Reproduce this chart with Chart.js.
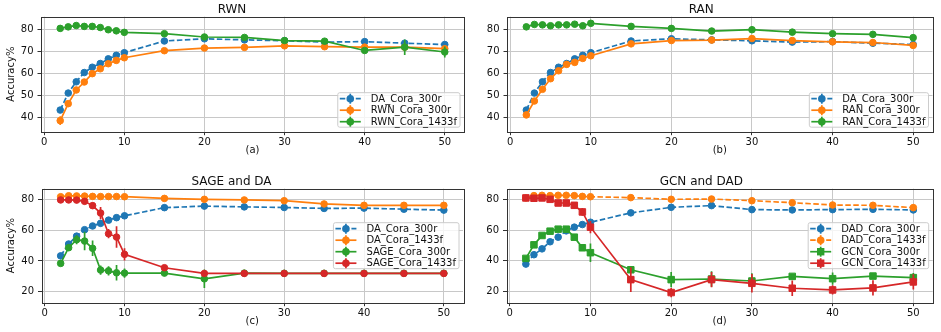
<!DOCTYPE html>
<html>
<head>
<meta charset="utf-8">
<script src="https://cdn.jsdelivr.net/npm/chart.js@4.4.1/dist/chart.umd.min.js"></script>
<style>
  body { margin: 0; background: #fff; width: 941px; height: 332px; overflow: hidden; position: relative; }
  canvas { position: absolute; }
</style>
</head>
<body>
<canvas id="chA" width="470" height="166" style="left:0;top:0"></canvas>
<canvas id="chB" width="471" height="166" style="left:470px;top:0"></canvas>
<canvas id="chC" width="470" height="166" style="left:0;top:166px"></canvas>
<canvas id="chD" width="471" height="166" style="left:470px;top:166px"></canvas>
<script>
// x values (number of steps) and ticks
var steps = [2, 3, 4, 5, 6, 7, 8, 9, 10, 15, 20, 25, 30, 35, 40, 45, 50];
var xTicks = [0, 10, 20, 30, 40, 50];
var yTicksTop = [40, 50, 60, 70, 80];
var yTicksBottom = [20, 40, 60, 80];
var titles = ['RWN', 'RAN', 'SAGE and DA', 'GCN and DAD'];
var subLabels = ['(a)', '(b)', '(c)', '(d)'];
var yLabel = 'Accuracy%';

// series values (accuracy %) and error bar half-lengths
var daCora300r     = [43.3, 51.0, 56.1, 60.3, 62.7, 64.4, 66.5, 68.1, 69.3, 74.6, 75.6, 75.1, 74.7, 74.1, 74.3, 73.6, 73.0];
var daCora300rErr  = [0.5, 0.4, 0.4, 0.3, 0.3, 0.3, 0.3, 0.3, 0.3, 0.3, 0.3, 0.3, 0.3, 0.3, 0.4, 1.5, 0.5];

var rwnCora300r    = [38.5, 46.2, 52.4, 56.0, 59.8, 62.0, 64.3, 65.8, 67.0, 70.2, 71.4, 71.7, 72.4, 72.0, 71.8, 71.8, 71.1];
var rwnCora300rErr = [2.0, 1.0, 0.8, 0.5, 0.5, 0.5, 0.5, 0.5, 0.5, 0.5, 0.5, 1.0, 0.8, 0.5, 0.5, 0.5, 0.6];
var rwnCora1433f   = [80.3, 81.0, 81.6, 81.2, 81.2, 80.7, 79.7, 79.2, 78.5, 77.9, 76.4, 76.2, 74.8, 74.5, 70.3, 71.8, 69.6];
var rwnCora1433fErr= [0.4, 0.4, 0.4, 0.4, 0.4, 0.4, 0.4, 0.4, 0.4, 0.4, 0.6, 0.6, 0.6, 0.6, 1.0, 3.5, 2.5];

var ranCora300r    = [41.1, 47.4, 52.7, 57.5, 61.1, 64.0, 64.9, 66.7, 67.9, 73.3, 74.8, 75.0, 75.7, 74.8, 74.2, 73.9, 72.6];
var ranCora300rErr = [0.8, 0.6, 0.5, 0.5, 0.5, 0.5, 0.5, 0.5, 0.5, 0.4, 0.4, 0.4, 0.4, 0.4, 0.4, 0.4, 0.4];
var ranCora1433f   = [81.0, 82.1, 81.9, 81.5, 81.9, 81.9, 82.2, 81.5, 82.6, 81.2, 80.3, 79.1, 79.7, 78.6, 77.9, 77.6, 76.1];
var ranCora1433fErr= [0.4, 0.4, 0.4, 0.4, 0.4, 0.4, 0.4, 0.4, 0.4, 0.4, 0.4, 0.4, 0.4, 0.4, 0.4, 0.4, 0.4];

var daCora1433f    = [81.7, 82.3, 82.2, 82.1, 81.9, 81.8, 81.8, 81.8, 81.7, 80.6, 80.0, 79.6, 79.1, 77.0, 76.1, 76.1, 76.1];
var daCora1433fErr = [0.4, 0.4, 0.4, 0.4, 0.4, 0.4, 0.4, 0.4, 0.4, 0.4, 0.4, 0.4, 0.4, 0.4, 0.4, 0.4, 0.4];
var sageCora300r   = [38.4, 48.6, 53.8, 52.9, 48.2, 34.1, 33.6, 32.3, 32.1, 32.1, 28.4, 32.1, 32.0, 32.0, 32.0, 32.0, 32.0];
var sageCora300rErr= [1.0, 2.0, 3.0, 6.0, 5.0, 3.0, 3.0, 5.0, 3.0, 1.0, 6.0, 0.4, 0.4, 0.4, 0.4, 0.4, 0.4];
var sageCora1433f  = [79.6, 79.6, 79.5, 78.7, 75.9, 71.1, 57.7, 55.5, 44.3, 35.6, 31.9, 31.9, 31.9, 31.9, 31.9, 31.9, 31.9];
var sageCora1433fErr=[0.5, 0.5, 0.5, 1.0, 2.0, 4.0, 3.0, 7.0, 4.0, 1.0, 0.4, 0.4, 0.4, 0.4, 0.4, 0.4, 0.4];

var dadCora300r    = [37.9, 44.0, 47.8, 52.4, 55.4, 59.5, 61.9, 63.6, 65.1, 71.2, 74.8, 75.9, 73.3, 73.1, 73.3, 73.5, 73.1];
var dadCora300rErr = [0.5, 0.5, 0.5, 0.5, 0.5, 0.5, 0.5, 0.5, 0.5, 0.5, 0.5, 0.5, 0.5, 0.5, 0.5, 0.5, 0.5];
var dadCora1433f   = [80.9, 82.4, 82.6, 82.4, 82.6, 82.6, 82.4, 81.9, 81.7, 81.1, 80.0, 80.2, 79.1, 77.8, 76.3, 76.1, 74.6];
var dadCora1433fErr= [0.4, 0.4, 0.4, 0.4, 0.4, 0.4, 0.4, 0.4, 0.4, 0.4, 0.4, 0.4, 0.4, 0.4, 0.4, 0.4, 0.4];
var gcnCora300r    = [41.6, 50.4, 56.5, 59.3, 60.6, 60.6, 55.4, 48.5, 45.3, 34.2, 27.8, 28.2, 26.9, 29.9, 28.4, 30.1, 29.1];
var gcnCora300rErr = [1.0, 1.0, 1.0, 1.0, 1.0, 1.0, 1.0, 2.0, 6.0, 1.0, 5.0, 5.0, 5.0, 1.0, 4.0, 1.0, 3.0];
var gcnCora1433f   = [80.9, 80.7, 80.9, 80.0, 77.6, 77.6, 76.1, 71.8, 61.9, 27.8, 19.4, 27.8, 25.4, 22.2, 21.1, 22.4, 26.3];
var gcnCora1433fErr= [0.5, 0.5, 0.5, 0.5, 0.5, 0.5, 2.0, 2.5, 4.0, 8.0, 3.0, 5.0, 6.0, 5.0, 3.0, 5.0, 5.0];

var FONT = '"DejaVu Sans", sans-serif';
var BLUE = '#1f77b4', ORANGE = '#ff7f0e', GREEN = '#2ca02c', RED = '#d62728';
var GRID = '#c8c8c8', AXIS = '#333333', TEXT = '#111111';

function makeSet(label, vals, errs, color, dashed, square) {
  return {
    label: label,
    data: steps.map(function (s, i) { return { x: s, y: vals[i] }; }),
    errs: errs,
    borderColor: color,
    backgroundColor: color,
    borderWidth: 1.7,
    borderDash: dashed ? [5.5, 2.5] : [],
    pointStyle: square ? 'rect' : 'circle',
    pointRadius: square ? 4.6 : 3.3,
    pointBorderWidth: 1,
    fill: false,
    tension: 0
  };
}

// vertical error bars, drawn with each dataset
var errorBars = {
  id: 'errorBars',
  afterDatasetDraw: function (chart, args) {
    var ds = chart.data.datasets[args.index];
    if (!ds.errs) return;
    var ctx = chart.ctx, ys = chart.scales.y, ca = chart.chartArea;
    ctx.save();
    ctx.beginPath();
    ctx.rect(ca.left, ca.top, ca.right - ca.left, ca.bottom - ca.top);
    ctx.clip();
    ctx.strokeStyle = ds.borderColor;
    ctx.lineWidth = 1.7;
    args.meta.data.forEach(function (pt, i) {
      var v = ds.data[i].y, e = ds.errs[i];
      ctx.beginPath();
      ctx.moveTo(pt.x, ys.getPixelForValue(v - e));
      ctx.lineTo(pt.x, ys.getPixelForValue(v + e));
      ctx.stroke();
    });
    ctx.restore();
  }
};

// axes box on all four sides
var frame = {
  id: 'frame',
  afterDatasetsDraw: function (chart) {
    var ca = chart.chartArea, ctx = chart.ctx;
    ctx.save();
    ctx.strokeStyle = AXIS;
    ctx.lineWidth = 1;
    ctx.strokeRect(Math.round(ca.left) + 0.5, Math.round(ca.top) + 0.5,
                   Math.round(ca.right - ca.left), Math.round(ca.bottom - ca.top));
    ctx.restore();
  }
};

// legend box inside the plot area
var boxLegend = {
  id: 'boxLegend',
  afterDraw: function (chart, args, opts) {
    var ctx = chart.ctx, ca = chart.chartArea;
    var sets = chart.data.datasets;
    var rowH = 11.5;
    ctx.save();
    ctx.font = '10px ' + FONT;
    var tw = 0;
    sets.forEach(function (d) { tw = Math.max(tw, ctx.measureText(d.label).width); });
    var w = 33 + tw + 3;
    var h = rowH * sets.length;
    var x = ca.right - 4 - w;
    var y = opts.loc === 'center' ? (ca.top + ca.bottom) / 2 - h / 2 : ca.bottom - 4.5 - h;
    ctx.fillStyle = 'rgba(255,255,255,0.8)';
    ctx.strokeStyle = '#cccccc';
    ctx.lineWidth = 1;
    ctx.beginPath();
    if (ctx.roundRect) ctx.roundRect(x, y, w, h, 2); else ctx.rect(x, y, w, h);
    ctx.fill();
    ctx.stroke();
    sets.forEach(function (d, i) {
      var cy = y + 6 + i * rowH;
      ctx.strokeStyle = d.borderColor;
      ctx.fillStyle = d.borderColor;
      ctx.lineWidth = 1.7;
      ctx.setLineDash(d.borderDash || []);
      ctx.beginPath();
      ctx.moveTo(x + 2, cy);
      ctx.lineTo(x + 23, cy);
      ctx.stroke();
      ctx.setLineDash([]);
      ctx.beginPath();
      ctx.moveTo(x + 12.5, cy - 5);
      ctx.lineTo(x + 12.5, cy + 5);
      ctx.stroke();
      ctx.beginPath();
      if (d.pointStyle === 'rect') ctx.rect(x + 12.5 - 3.7, cy - 3.7, 7.4, 7.4);
      else ctx.arc(x + 12.5, cy, 3.8, 0, Math.PI * 2);
      ctx.fill();
      ctx.fillStyle = TEXT;
      ctx.textBaseline = 'middle';
      ctx.textAlign = 'left';
      ctx.fillText(d.label, x + 33, cy + 0.5);
    });
    ctx.restore();
  }
};

function makeChart(id, p) {
  var tickFont = { family: FONT, size: 10 };
  return new Chart(document.getElementById(id), {
    type: 'line',
    data: { datasets: p.sets.map(function (d, i) { d.order = p.sets.length - i; return d; }) },
    plugins: [errorBars, frame, boxLegend],
    options: {
      responsive: false,
      animation: false,
      events: [],
      layout: { padding: { top: p.padTop, right: p.padRight, left: 0, bottom: 0 } },
      plugins: {
        legend: { display: false },
        tooltip: { enabled: false },
        boxLegend: { loc: p.legendLoc },
        title: {
          display: true, text: p.title, color: TEXT,
          font: { family: FONT, size: 12, weight: 'normal' },
          padding: { top: 2.3, bottom: 0 }
        }
      },
      scales: {
        x: {
          type: 'linear', min: -0.4, max: 52.4,
          afterBuildTicks: function (s) { s.ticks = xTicks.map(function (v) { return { value: v }; }); },
          afterFit: function (s) { s.height = p.xAxisH; },
          grid: { color: GRID, lineWidth: 1, tickLength: 3.5, tickColor: AXIS },
          border: { display: false },
          ticks: { color: TEXT, font: tickFont, padding: 1, maxRotation: 0, autoSkip: false },
          title: { display: true, text: p.sub, color: TEXT, font: tickFont, padding: { top: 0, bottom: p.subPad } }
        },
        y: {
          min: p.yMin, max: p.yMax,
          afterBuildTicks: function (s) { s.ticks = p.yTicks.map(function (v) { return { value: v }; }); },
          afterFit: function (s) { s.width = p.yAxisW; },
          grid: { color: GRID, lineWidth: 1, tickLength: 3.5, tickColor: AXIS },
          border: { display: false },
          ticks: { color: TEXT, font: tickFont, padding: 4 },
          title: { display: !!p.yTitle, text: p.yTitle, color: TEXT, font: tickFont, padding: { top: 5.5, bottom: 0 } }
        }
      }
    }
  });
}

makeChart('chA', {
  title: titles[0], sub: subLabels[0], yTitle: yLabel, legendLoc: 'lower',
  padTop: 0, padRight: 6, xAxisH: 34.3, subPad: 10, yAxisW: 41,
  yMin: 33.5, yMax: 85.6, yTicks: yTicksTop,
  sets: [
    makeSet('DA_Cora_300r', daCora300r, daCora300rErr, BLUE, true, false),
    makeSet('RWN_Cora_300r', rwnCora300r, rwnCora300rErr, ORANGE, false, false),
    makeSet('RWN_Cora_1433f', rwnCora1433f, rwnCora1433fErr, GREEN, false, false)
  ]
});

makeChart('chB', {
  title: titles[1], sub: subLabels[1], yTitle: '', legendLoc: 'lower',
  padTop: 0, padRight: 8.5, xAxisH: 34.3, subPad: 10, yAxisW: 37,
  yMin: 33.5, yMax: 85.6, yTicks: yTicksTop,
  sets: [
    makeSet('DA_Cora_300r', daCora300r, daCora300rErr, BLUE, true, false),
    makeSet('RAN_Cora_300r', ranCora300r, ranCora300rErr, ORANGE, false, false),
    makeSet('RAN_Cora_1433f', ranCora1433f, ranCora1433fErr, GREEN, false, false)
  ]
});

makeChart('chC', {
  title: titles[2], sub: subLabels[2], yTitle: yLabel, legendLoc: 'center',
  padTop: 6, padRight: 7, xAxisH: 29.3, subPad: 5, yAxisW: 41.5,
  yMin: 12.9, yMax: 86.9, yTicks: yTicksBottom,
  sets: [
    makeSet('DA_Cora_300r', daCora300r, daCora300rErr, BLUE, true, false),
    makeSet('DA_Cora_1433f', daCora1433f, daCora1433fErr, ORANGE, false, false),
    makeSet('SAGE_Cora_300r', sageCora300r, sageCora300rErr, GREEN, false, false),
    makeSet('SAGE_Cora_1433f', sageCora1433f, sageCora1433fErr, RED, false, false)
  ]
});

makeChart('chD', {
  title: titles[3], sub: subLabels[3], yTitle: '', legendLoc: 'center',
  padTop: 6, padRight: 8.3, xAxisH: 29.3, subPad: 5, yAxisW: 36.5,
  yMin: 12.8, yMax: 86.9, yTicks: yTicksBottom,
  sets: [
    makeSet('DAD_Cora_300r', dadCora300r, dadCora300rErr, BLUE, true, false),
    makeSet('DAD_Cora_1433f', dadCora1433f, dadCora1433fErr, ORANGE, true, false),
    makeSet('GCN_Cora_300r', gcnCora300r, gcnCora300rErr, GREEN, false, true),
    makeSet('GCN_Cora_1433f', gcnCora1433f, gcnCora1433fErr, RED, false, true)
  ]
});
</script>
</body>
</html>
